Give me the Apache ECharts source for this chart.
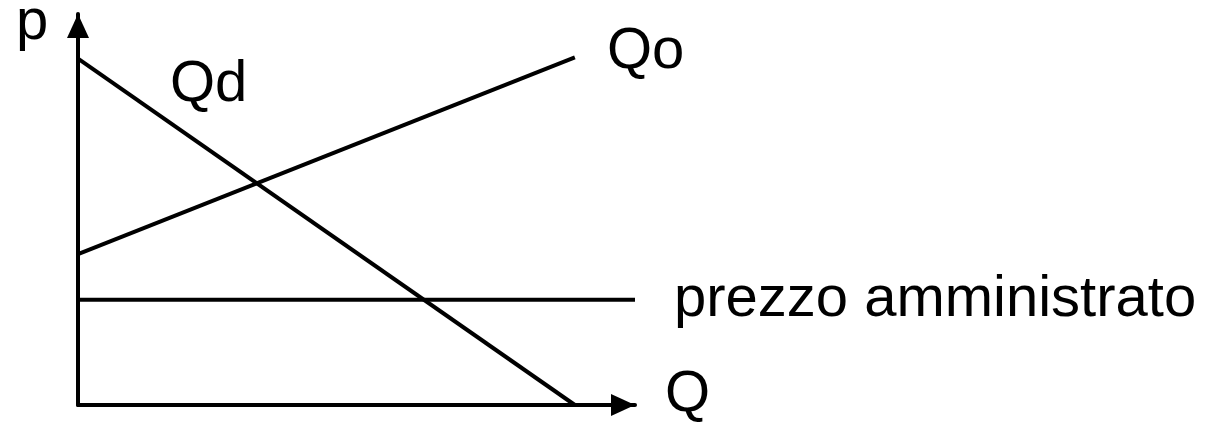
<!DOCTYPE html>
<html>
<head>
<meta charset="utf-8">
<script src="https://cdn.jsdelivr.net/npm/echarts@6/dist/echarts.min.js"></script>
<style>
html,body{margin:0;padding:0;background:#fff;}
#c{width:1205px;height:423px;}
</style>
</head>
<body>
<div id="c"></div>
<script>
// Data (arbitrary units: Q on x, p on y, both 0..100)
const demandQd = [[0, 88.6], [89.2, 0]];
const supplyQo = [[0, 38.6], [89.2, 88.9]];
const adminPrice = [[0, 26.9], [100, 26.9]];
const labels = {p: 'p', Q: 'Q', Qd: 'Qd', Qo: 'Qo', admin: 'prezzo amministrato'};

const chart = echarts.init(document.getElementById('c'), null, {renderer: 'canvas'});
const font = '"Liberation Sans", Arial, sans-serif';
const lineStyle = {color: '#000', width: 4};
const txt = (t, x, y) => ({
  type: 'text', left: x, top: y,
  style: {text: t, font: '58px ' + font, fill: '#000'}
});
const axisLine = {
  show: true, lineStyle: {color: '#000', width: 4},
  symbol: ['none', 'triangle'], symbolSize: [22, 24], symbolOffset: [0, -12]
};
chart.setOption({
  animation: false,
  backgroundColor: '#fff',
  grid: {left: 78, top: 14, right: 570, bottom: 18, containLabel: false},
  xAxis: {
    type: 'value', min: 0, max: 100,
    axisLine: axisLine,
    axisTick: {show: false}, axisLabel: {show: false}, splitLine: {show: false}
  },
  yAxis: {
    type: 'value', min: 0, max: 100,
    axisLine: axisLine,
    axisTick: {show: false}, axisLabel: {show: false}, splitLine: {show: false}
  },
  series: [
    {type: 'line', data: demandQd, symbol: 'none', lineStyle: lineStyle},
    {type: 'line', data: supplyQo, symbol: 'none', lineStyle: lineStyle},
    {type: 'line', data: adminPrice, symbol: 'none', lineStyle: lineStyle}
  ],
  graphic: [
    txt(labels.p, 16, -6),
    txt(labels.Qd, 170, 56),
    txt(labels.Qo, 607, 23),
    txt(labels.admin, 674, 271),
    txt(labels.Q, 665, 366)
  ]
});
</script>
</body>
</html>
